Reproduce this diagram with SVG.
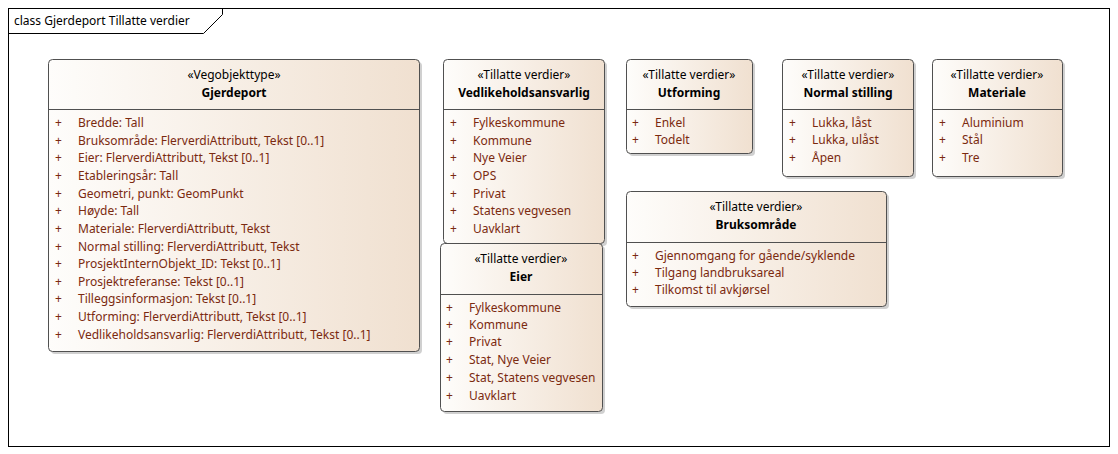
<svg xmlns="http://www.w3.org/2000/svg" width="1118" height="454" viewBox="0 0 1118 454">
<style>
.frame{fill:#ffffff;stroke:#000000;stroke-width:1}
.box{fill:url(#g);stroke:#505050;stroke-width:1}
.sh{fill:#b0b0b0;opacity:0.6}
.div{stroke:#505050;stroke-width:1}
.st{font-family:"Noto Sans","Open Sans",sans-serif;font-size:12px;fill:#000;text-anchor:middle}
.nm{font-family:"Noto Sans","Open Sans",sans-serif;font-size:12px;font-weight:bold;fill:#000;text-anchor:middle}
.it{font-family:"Noto Sans","Open Sans",sans-serif;font-size:12px;fill:#7b2a10}
.ttl{font-family:"Noto Sans","Open Sans",sans-serif;font-size:12px;fill:#000}
</style>
<defs>
<linearGradient id="g" x1="0" y1="0" x2="1" y2="0">
<stop offset="0" stop-color="#fefdfb"/>
<stop offset="1" stop-color="#f0e0d0"/>
</linearGradient>
</defs>
<rect width="1118" height="454" fill="#ffffff"/>
<g id="frame">
<rect class="frame" x="8.5" y="8.5" width="1101" height="438"/>
<path d="M8.5 33.5 H203.5 L222.5 14.5 V8.5" fill="none" stroke="#000"/>
<text class="ttl" x="14" y="25">class Gjerdeport Tillatte verdier</text>
</g>
<g id="connectors"></g>
<g id="Gjerdeport">
<rect class="sh" x="51" y="62" width="371" height="292" rx="4"/>
<rect class="box" x="48.5" y="59.5" width="371" height="292" rx="4"/>
<line class="div" x1="48.5" y1="109.5" x2="419.5" y2="109.5"/>
<text class="st" x="234" y="79">«Vegobjekttype»</text>
<text class="nm" x="234" y="97">Gjerdeport</text>
<g class="it">
<text x="55" y="127">+</text><text x="78" y="127">Bredde: Tall</text>
<text x="55" y="145">+</text><text x="78" y="145">Bruksområde: FlerverdiAttributt, Tekst [0..1]</text>
<text x="55" y="162">+</text><text x="78" y="162">Eier: FlerverdiAttributt, Tekst [0..1]</text>
<text x="55" y="180">+</text><text x="78" y="180">Etableringsår: Tall</text>
<text x="55" y="198">+</text><text x="78" y="198">Geometri, punkt: GeomPunkt</text>
<text x="55" y="215">+</text><text x="78" y="215">Høyde: Tall</text>
<text x="55" y="233">+</text><text x="78" y="233">Materiale: FlerverdiAttributt, Tekst</text>
<text x="55" y="251">+</text><text x="78" y="251">Normal stilling: FlerverdiAttributt, Tekst</text>
<text x="55" y="268">+</text><text x="78" y="268">ProsjektInternObjekt_ID: Tekst [0..1]</text>
<text x="55" y="286">+</text><text x="78" y="286">Prosjektreferanse: Tekst [0..1]</text>
<text x="55" y="303">+</text><text x="78" y="303">Tilleggsinformasjon: Tekst [0..1]</text>
<text x="55" y="321">+</text><text x="78" y="321">Utforming: FlerverdiAttributt, Tekst [0..1]</text>
<text x="55" y="339">+</text><text x="78" y="339">Vedlikeholdsansvarlig: FlerverdiAttributt, Tekst [0..1]</text>
</g>
</g>
<g id="Vedlikeholdsansvarlig">
<rect class="sh" x="446" y="62" width="161" height="184" rx="4"/>
<rect class="box" x="443.5" y="59.5" width="161" height="184" rx="4"/>
<line class="div" x1="443.5" y1="109.5" x2="604.5" y2="109.5"/>
<text class="st" x="524" y="79">«Tillatte verdier»</text>
<text class="nm" x="524" y="97">Vedlikeholdsansvarlig</text>
<g class="it">
<text x="450" y="127">+</text><text x="473" y="127">Fylkeskommune</text>
<text x="450" y="145">+</text><text x="473" y="145">Kommune</text>
<text x="450" y="162">+</text><text x="473" y="162">Nye Veier</text>
<text x="450" y="180">+</text><text x="473" y="180">OPS</text>
<text x="450" y="198">+</text><text x="473" y="198">Privat</text>
<text x="450" y="215">+</text><text x="473" y="215">Statens vegvesen</text>
<text x="450" y="233">+</text><text x="473" y="233">Uavklart</text>
</g>
</g>
<g id="Eier">
<rect class="sh" x="443" y="246" width="162" height="168" rx="4"/>
<rect class="box" x="440.5" y="243.5" width="162" height="168" rx="4"/>
<line class="div" x1="440.5" y1="294.5" x2="602.5" y2="294.5"/>
<text class="st" x="521" y="263">«Tillatte verdier»</text>
<text class="nm" x="521" y="281">Eier</text>
<g class="it">
<text x="446" y="312">+</text><text x="469" y="312">Fylkeskommune</text>
<text x="446" y="329">+</text><text x="469" y="329">Kommune</text>
<text x="446" y="346">+</text><text x="469" y="346">Privat</text>
<text x="446" y="364">+</text><text x="469" y="364">Stat, Nye Veier</text>
<text x="446" y="382">+</text><text x="469" y="382">Stat, Statens vegvesen</text>
<text x="446" y="400">+</text><text x="469" y="400">Uavklart</text>
</g>
</g>
<g id="Utforming">
<rect class="sh" x="629" y="62" width="126" height="94" rx="4"/>
<rect class="box" x="626.5" y="59.5" width="126" height="94" rx="4"/>
<line class="div" x1="626.5" y1="109.5" x2="752.5" y2="109.5"/>
<text class="st" x="689" y="79">«Tillatte verdier»</text>
<text class="nm" x="689" y="97">Utforming</text>
<g class="it">
<text x="632" y="127">+</text><text x="655" y="127">Enkel</text>
<text x="632" y="144">+</text><text x="655" y="144">Todelt</text>
</g>
</g>
<g id="NormalStilling">
<rect class="sh" x="785" y="62" width="131" height="117" rx="4"/>
<rect class="box" x="782.5" y="59.5" width="131" height="117" rx="4"/>
<line class="div" x1="782.5" y1="109.5" x2="913.5" y2="109.5"/>
<text class="st" x="848" y="79">«Tillatte verdier»</text>
<text class="nm" x="848" y="97">Normal stilling</text>
<g class="it">
<text x="789" y="127">+</text><text x="812" y="127">Lukka, låst</text>
<text x="789" y="144">+</text><text x="812" y="144">Lukka, ulåst</text>
<text x="789" y="162">+</text><text x="812" y="162">Åpen</text>
</g>
</g>
<g id="Materiale">
<rect class="sh" x="935" y="62" width="130" height="117" rx="4"/>
<rect class="box" x="932.5" y="59.5" width="130" height="117" rx="4"/>
<line class="div" x1="932.5" y1="109.5" x2="1062.5" y2="109.5"/>
<text class="st" x="997" y="79">«Tillatte verdier»</text>
<text class="nm" x="997" y="97">Materiale</text>
<g class="it">
<text x="939" y="127">+</text><text x="962" y="127">Aluminium</text>
<text x="939" y="144">+</text><text x="962" y="144">Stål</text>
<text x="939" y="162">+</text><text x="962" y="162">Tre</text>
</g>
</g>
<g id="Bruksomrade">
<rect class="sh" x="629" y="194" width="260" height="115" rx="4"/>
<rect class="box" x="626.5" y="191.5" width="260" height="115" rx="4"/>
<line class="div" x1="626.5" y1="242.5" x2="886.5" y2="242.5"/>
<text class="st" x="756" y="211">«Tillatte verdier»</text>
<text class="nm" x="756" y="229">Bruksområde</text>
<g class="it">
<text x="632" y="260">+</text><text x="655" y="260">Gjennomgang for gående/syklende</text>
<text x="632" y="277">+</text><text x="655" y="277">Tilgang landbruksareal</text>
<text x="632" y="294">+</text><text x="655" y="294">Tilkomst til avkjørsel</text>
</g>
</g>
</svg>
